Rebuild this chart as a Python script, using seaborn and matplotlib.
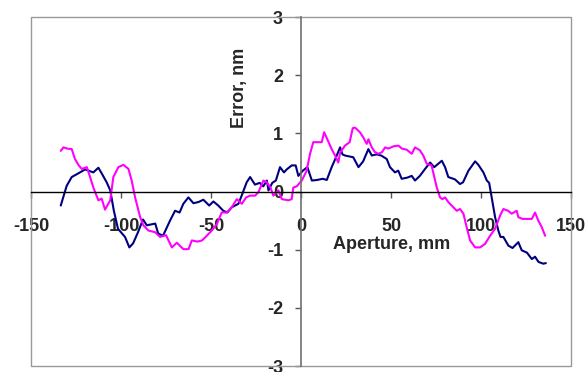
import matplotlib
matplotlib.use("Agg")
import matplotlib.pyplot as plt
from matplotlib.patches import Rectangle
import seaborn as sns
import pandas as pd

# values
navy_x = [-133.5, -130.2, -127.4, -122.8, -120, -115.4, -112.6, -110.7, -108, -106,
          -104, -101.7, -97.8, -95.4, -93.3, -90.6, -87.8, -85.7, -81, -79.4,
          -76.7, -72.8, -70, -67.5, -65.4, -62.6, -59.8, -57, -54.3, -51,
          -48.7, -46, -43.2, -41, -38.5, -34.8, -33, -30.2, -28.3, -25.6,
          -23, -21, -19, -18.1, -16, -14, -11.7, -9.5, -8, -5.2,
          -3, -1.5, 1, 3.5, 6, 9, 12, 14.3, 17, 19,
          21.7, 23, 24.4, 29, 31.9, 34.5, 37.4, 39.3, 42, 44.5,
          47.6, 49.4, 52.2, 54, 55.9, 59, 61.5, 63.3, 66, 68.9,
          71.7, 74, 78.2, 80, 81.8, 85.5, 88.3, 90, 93, 96.7,
          98.5, 101.3, 103.2, 104.5, 105.9, 107.8, 109.6, 110.8, 112.4, 115.2,
          117.5, 120.7, 122.6, 125.5, 128.2, 130, 131.9, 134.6, 136]
navy_y = [-0.24, 0.10, 0.25, 0.33, 0.38, 0.33, 0.41, 0.31, 0.16, 0.02,
          -0.33, -0.64, -0.78, -0.96, -0.89, -0.70, -0.48, -0.58, -0.55, -0.72,
          -0.76, -0.50, -0.33, -0.36, -0.21, -0.10, -0.20, -0.18, -0.14, -0.24,
          -0.17, -0.24, -0.33, -0.36, -0.27, -0.21, -0.07, 0.16, 0.25, 0.12,
          0.15, 0.09, 0.19, 0.02, 0.15, 0.19, 0.42, 0.33, 0.38, 0.45,
          0.45, 0.27, 0.36, 0.42, 0.19, 0.20, 0.22, 0.20, 0.42, 0.56,
          0.76, 0.64, 0.62, 0.59, 0.42, 0.52, 0.73, 0.62, 0.64, 0.62,
          0.56, 0.42, 0.33, 0.36, 0.22, 0.24, 0.27, 0.19, 0.27, 0.39,
          0.50, 0.42, 0.53, 0.42, 0.25, 0.21, 0.13, 0.16, 0.36, 0.52,
          0.46, 0.33, 0.19, 0.15, -0.10, -0.44, -0.67, -0.78, -0.78, -0.93,
          -0.97, -0.87, -1.01, -1.05, -1.16, -1.12, -1.21, -1.24, -1.23]

pink_x = [-133.5, -132, -130, -127.4, -125.6, -123.5, -121.8, -119, -117.2, -115.4,
          -112.6, -110.8, -108.9, -106, -104.3, -101.5, -98.7, -95.9, -94.1, -92.2,
          -89.4, -87.6, -84.8, -81, -78.3, -75, -71.8, -69, -65.4, -62.5,
          -60.7, -57.5, -55, -52.4, -49.6, -46.8, -44.1, -41.3, -38.5, -35.7,
          -32.9, -30.5, -28.3, -25.5, -23.7, -20.9, -19, -17, -15.4, -12.6,
          -10.7, -7, -5.2, -4.3, -2.4, 0.4, 3, 5, 6.8, 9.5,
          11.5, 12.8, 14, 17, 18.9, 20.7, 21.7, 24.4, 27, 28.7,
          30, 32.7, 34.6, 36.5, 37.4, 39.3, 41, 43, 45, 46.7,
          48.5, 51.5, 54.1, 56, 58.7, 61.5, 63.3, 66, 67.9, 69.8,
          72.5, 75.4, 77.2, 78.5, 80, 81.8, 84.6, 86.5, 88.3, 90.2,
          92, 93.9, 96.7, 99.4, 102.2, 105, 107.8, 110.6, 112.4, 115,
          117, 119.8, 120.7, 123, 125.5, 128.2, 130, 131.8, 133.7, 135.6]
pink_y = [0.70, 0.76, 0.74, 0.73, 0.56, 0.45, 0.39, 0.42, 0.25, 0.07,
          -0.15, -0.12, -0.31, -0.15, 0.25, 0.42, 0.46, 0.39, 0.19, -0.10,
          -0.44, -0.58, -0.67, -0.70, -0.78, -0.75, -0.96, -0.88, -0.99, -0.99,
          -0.84, -0.86, -0.84, -0.76, -0.67, -0.56, -0.36, -0.36, -0.27, -0.13,
          -0.21, -0.10, -0.07, -0.07, -0.01, 0.19, 0.16, 0.07, -0.07, 0.02,
          -0.13, -0.15, -0.13, 0.07, 0.09, 0.19, 0.35, 0.65, 0.85, 0.85,
          0.85, 1.02, 0.94, 0.73, 0.62, 0.50, 0.67, 0.79, 0.85, 1.09,
          1.10, 1.02, 0.93, 0.82, 0.90, 0.76, 0.68, 0.65, 0.68, 0.76,
          0.74, 0.78, 0.79, 0.74, 0.72, 0.65, 0.76, 0.71, 0.62, 0.48,
          0.45, 0.07, -0.10, -0.13, -0.10, -0.18, -0.27, -0.33, -0.30, -0.38,
          -0.61, -0.84, -0.96, -0.96, -0.90, -0.76, -0.64, -0.41, -0.30, -0.33,
          -0.38, -0.33, -0.44, -0.47, -0.47, -0.47, -0.36, -0.50, -0.61, -0.76]

x_ticks = [-150, -100, -50, 0, 50, 100, 150]
y_ticks = [-3, -2, -1, 0, 1, 2, 3]

df = pd.concat([
    pd.DataFrame({"aperture": navy_x, "error": navy_y, "series": "A"}),
    pd.DataFrame({"aperture": pink_x, "error": pink_y, "series": "B"}),
], ignore_index=True)

sns.set_style("white")
plt.rcParams["font.family"] = ["Liberation Sans", "DejaVu Sans"]
plt.rcParams["axes.unicode_minus"] = False

fig = plt.figure(figsize=(5.86, 3.72), dpi=100)
ax = fig.add_axes([0.053, 0.016, 0.9215, 0.938])

sns.lineplot(data=df, x="aperture", y="error", hue="series", sort=False,
             estimator=None, palette={"A": "#000080", "B": "#FF00FF"},
             linewidth=1.5, legend=False, ax=ax)

ax.set_xlim(-150, 150)
ax.set_ylim(-3, 3)
ax.set_xticks(x_ticks)
ax.set_yticks(y_ticks)
ax.set_xlabel("")
ax.set_ylabel("")

# axes crossing at the origin, Excel style
ax.spines["left"].set_position(("data", 0))
ax.spines["bottom"].set_position(("data", 0))
ax.spines["right"].set_visible(False)
ax.spines["top"].set_visible(False)
ax.spines["left"].set_color("#707070")
ax.spines["bottom"].set_color("#000000")
ax.spines["left"].set_linewidth(1.2)
ax.spines["bottom"].set_linewidth(1.0)

ax.tick_params(axis="x", direction="out", length=4, width=1, color="#555555",
               pad=15, labelsize=13, bottom=True)
ax.tick_params(axis="y", direction="out", length=4, width=1, color="#555555",
               pad=9, labelsize=13, left=True)
for lab in ax.get_xticklabels() + ax.get_yticklabels():
    lab.set_fontweight("bold")

# plot area border
ax.add_patch(Rectangle((0, 0), 1, 1, transform=ax.transAxes, fill=False,
                       edgecolor="#999999", linewidth=1.0, clip_on=False))

ax.text(50.5, -0.91, "Aperture, mm", fontsize=13, fontweight="bold",
        ha="center", va="center")
ax.text(-34, 1.79, "Error, nm", fontsize=13, fontweight="bold",
        ha="center", va="center", rotation=90)

fig.savefig("out.png", dpi=100, facecolor="white")
